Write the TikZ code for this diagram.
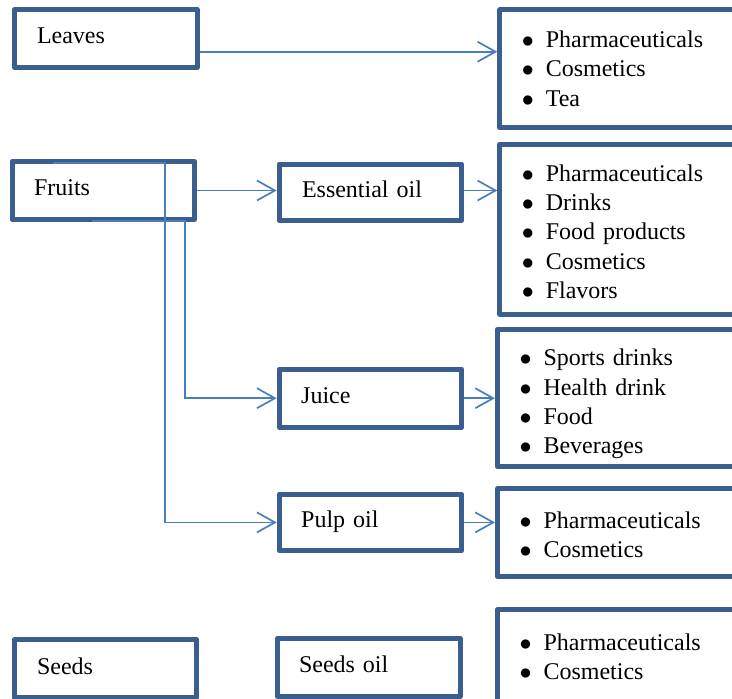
\documentclass[tikz,border=0pt]{standalone}
\usepackage{fontspec}
\setmainfont{Liberation Serif}
\usetikzlibrary{arrows.meta,calc}
\definecolor{boxblue}{HTML}{3A5F8F}
\definecolor{linkblue}{HTML}{4A7EBB}
% one bulleted entry of a product list
\newcommand{\bitem}[1]{\makebox[12pt][l]{$\bullet$}#1}
% taller first line, pushes a list a little lower in its box
\newcommand{\toppad}[1]{\rule{0pt}{#1}}

\begin{document}
\begin{tikzpicture}[x=0.5pt,y=-0.5pt,
  box/.style={draw=boxblue, line width=2.5pt, line join=round, fill=white,
    anchor=north west, align=left, inner ysep=0pt,
    font=\fontsize{12}{14.6}\selectfont},
  srcbox/.style={box, minimum width=91.3pt, minimum height=29pt,
    text height=8.4pt, text depth=3pt},
  listbox/.style={box, minimum width=140pt},
  link/.style={draw=linkblue, line width=0.85pt},
  arr/.style={link, -{Straight Barb[length=9pt,width=10pt]}}
]
\useasboundingbox (0,0) rectangle (732,698);
\clip (0,0) rectangle (732,698);

% sources and products
\node[srcbox, inner xsep=11.25pt, text width=68.8pt] (leaves) at (12,7) {Leaves};
\node[srcbox, inner xsep=11pt, text width=69.3pt] (fruits) at (9.5,159) {Fruits};
\node[srcbox, inner xsep=11.4pt, text width=68.5pt, minimum height=28.25pt] (essoil) at (276.7,161.7) {Essential oil};
\node[srcbox, inner xsep=11pt, text width=69.3pt] (juice) at (276.7,366.7) {Juice};
\node[srcbox, inner xsep=11pt, text width=69.3pt, minimum height=28.2pt] (pulp) at (276.7,491.7) {Pulp oil};
\node[srcbox, inner xsep=11.4pt, text width=68.5pt] (seeds) at (11.7,637.3) {Seeds};
\node[srcbox, inner xsep=10.75pt, text width=69.8pt] (seedoil) at (275,636) {Seeds oil};

% uses
\node[listbox, inner xsep=11pt, text width=118pt, minimum height=58.85pt] (r1) at (497.3,7.3)
  {\bitem{Pharmaceuticals}\\\bitem{Cosmetics}\\\bitem{Tea}};
\node[listbox, inner xsep=11pt, text width=118pt, minimum height=85pt] (r2) at (497.3,141.7)
  {\toppad{10.8pt}\bitem{Pharmaceuticals}\\\bitem{Drinks}\\\bitem{Food products}\\\bitem{Cosmetics}\\\bitem{Flavors}};
\node[listbox, inner xsep=11pt, text width=118pt, minimum height=68.8pt] (r3) at (495,326.7)
  {\toppad{14.2pt}\bitem{Sports drinks}\\\bitem{Health drink}\\\bitem{Food}\\\bitem{Beverages}};
\node[listbox, inner xsep=11pt, text width=118pt, minimum height=44.15pt] (r4) at (495,486)
  {\toppad{10.8pt}\bitem{Pharmaceuticals}\\\bitem{Cosmetics}};
\node[listbox, inner xsep=11pt, text width=118pt, minimum height=46.7pt] (r5) at (495,607.3)
  {\bitem{Pharmaceuticals}\\\bitem{Cosmetics}};

% connectors
\coordinate (lv) at ([yshift=-6.6pt]leaves.east);
\draw[arr] (lv) -- (lv -| r1.west);
\draw[arr] (fruits.east) -- (fruits.east -| essoil.west);
\draw[arr] (fruits.east -| essoil.east) -- (fruits.east -| r2.west);
\coordinate (p0) at (53,163);
\coordinate (p1) at (165,163);
\draw[arr] (p0) -- (p1) |- (pulp.west);
\coordinate (j0) at (92,221);
\coordinate (j1) at (185,221);
\draw[arr] (j0) -- (j1) |- (juice.west);
\draw[arr] (juice.east) -- (juice.east -| r3.west);
\draw[arr] (pulp.east) -- (pulp.east -| r4.west);
\end{tikzpicture}
\end{document}
